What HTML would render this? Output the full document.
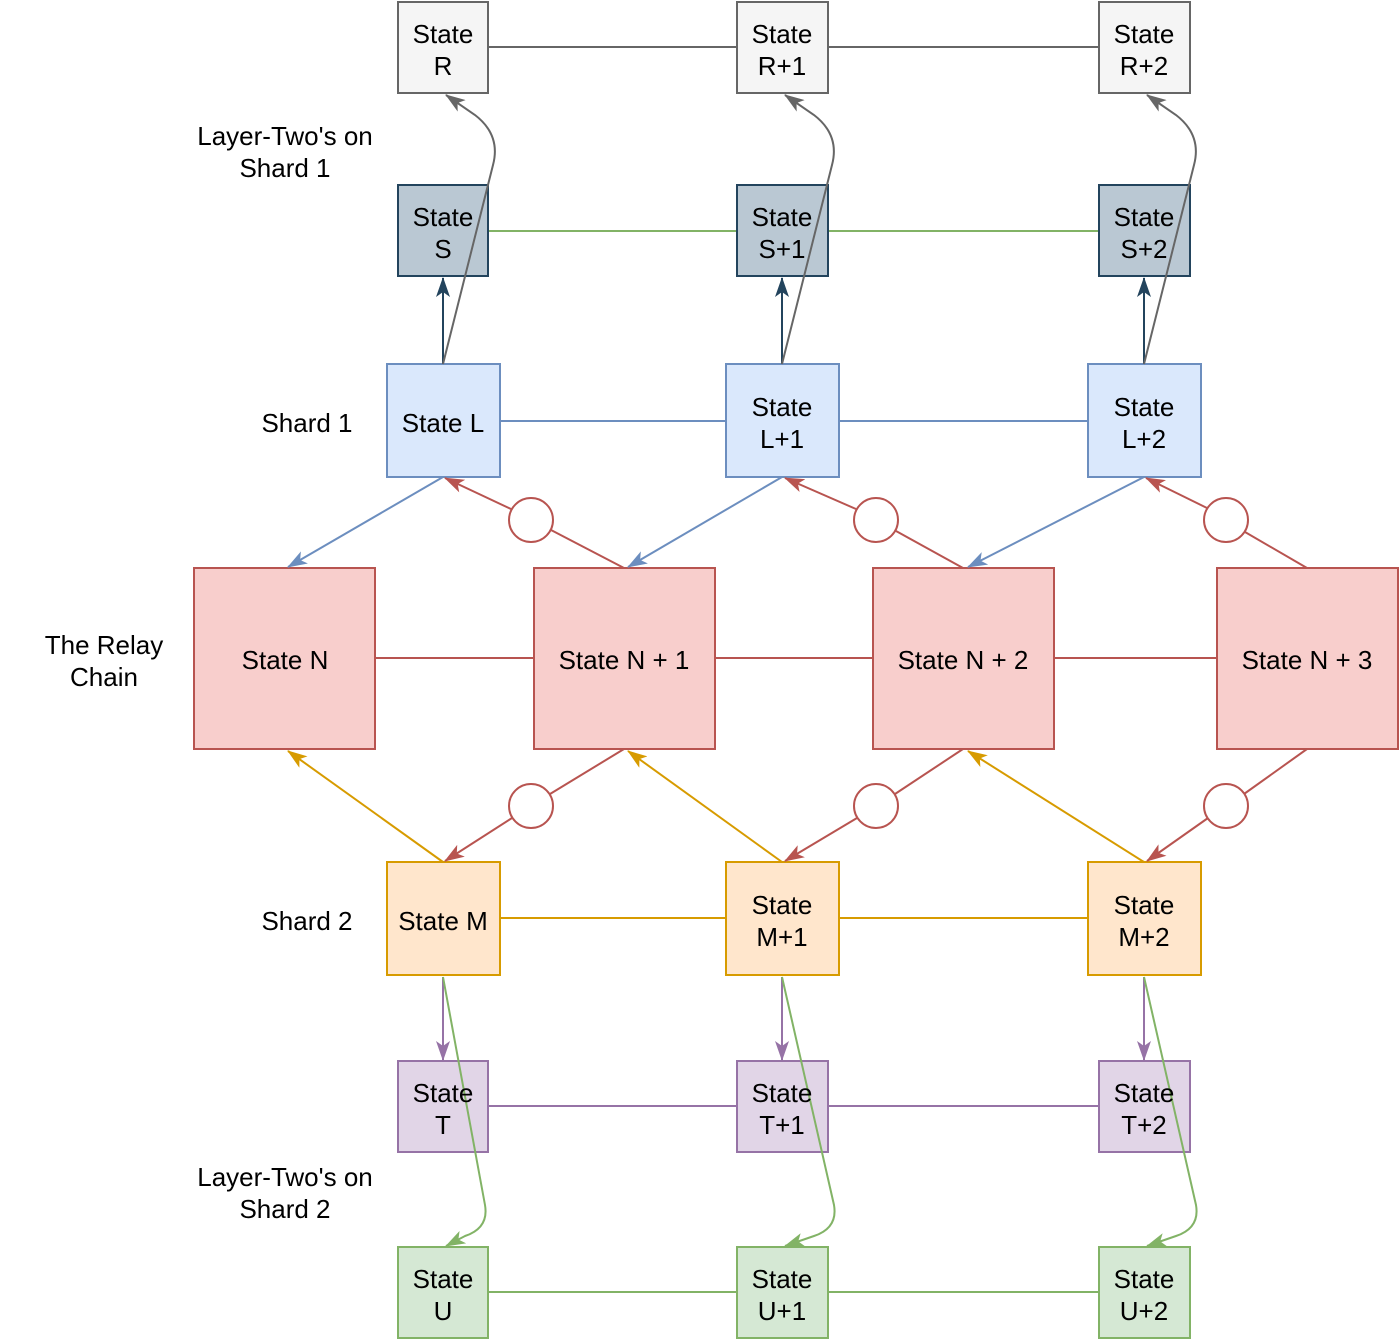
<!DOCTYPE html>
<html><head><meta charset="utf-8"><style>
html,body{margin:0;padding:0;background:#fff}
svg{display:block}
text{font-family:"Liberation Sans",Helvetica,Arial,sans-serif;font-size:26px;fill:#000}
</style></head><body>
<svg width="1400" height="1339" viewBox="0 0 1400 1339" xmlns="http://www.w3.org/2000/svg">
<defs>
<marker id="aG" viewBox="0 0 20 14" refX="19" refY="7" markerWidth="20" markerHeight="14" markerUnits="userSpaceOnUse" orient="auto"><path d="M0,0 L20,7 L0,14 L5,7 z" fill="#666" stroke="none"/></marker>
<marker id="aD" viewBox="0 0 20 14" refX="19" refY="7" markerWidth="20" markerHeight="14" markerUnits="userSpaceOnUse" orient="auto"><path d="M0,0 L20,7 L0,14 L5,7 z" fill="#23445d" stroke="none"/></marker>
<marker id="aB" viewBox="0 0 20 14" refX="19" refY="7" markerWidth="20" markerHeight="14" markerUnits="userSpaceOnUse" orient="auto"><path d="M0,0 L20,7 L0,14 L5,7 z" fill="#6c8ebf" stroke="none"/></marker>
<marker id="aR" viewBox="0 0 20 14" refX="19" refY="7" markerWidth="20" markerHeight="14" markerUnits="userSpaceOnUse" orient="auto"><path d="M0,0 L20,7 L0,14 L5,7 z" fill="#b85450" stroke="none"/></marker>
<marker id="aO" viewBox="0 0 20 14" refX="19" refY="7" markerWidth="20" markerHeight="14" markerUnits="userSpaceOnUse" orient="auto"><path d="M0,0 L20,7 L0,14 L5,7 z" fill="#d79b00" stroke="none"/></marker>
<marker id="aP" viewBox="0 0 20 14" refX="19" refY="7" markerWidth="20" markerHeight="14" markerUnits="userSpaceOnUse" orient="auto"><path d="M0,0 L20,7 L0,14 L5,7 z" fill="#9673a6" stroke="none"/></marker>
<marker id="aV" viewBox="0 0 20 14" refX="19" refY="7" markerWidth="20" markerHeight="14" markerUnits="userSpaceOnUse" orient="auto"><path d="M0,0 L20,7 L0,14 L5,7 z" fill="#82b366" stroke="none"/></marker>
</defs>
<g stroke-width="2" fill="none">
<line x1="488" y1="47" x2="1099" y2="47" stroke="#666"/>
<line x1="488" y1="231" x2="1099" y2="231" stroke="#82b366"/>
<line x1="500" y1="421" x2="1088" y2="421" stroke="#6c8ebf"/>
<line x1="375" y1="658" x2="1217" y2="658" stroke="#b85450"/>
<line x1="500" y1="918" x2="1088" y2="918" stroke="#d79b00"/>
<line x1="488" y1="1106" x2="1099" y2="1106" stroke="#9673a6"/>
<line x1="488" y1="1292" x2="1099" y2="1292" stroke="#82b366"/>
</g>
<g stroke-width="2">
<g fill="#f5f5f5" stroke="#666"><rect x="398" y="2" width="90" height="91"/><rect x="737" y="2" width="91" height="91"/><rect x="1099" y="2" width="91" height="91"/></g>
<g fill="#bac8d3" stroke="#23445d"><rect x="398" y="185" width="90" height="91"/><rect x="737" y="185" width="91" height="91"/><rect x="1099" y="185" width="91" height="91"/></g>
<g fill="#dae8fc" stroke="#6c8ebf"><rect x="387" y="364" width="113" height="113"/><rect x="726" y="364" width="113" height="113"/><rect x="1088" y="364" width="113" height="113"/></g>
<g fill="#f8cecc" stroke="#b85450"><rect x="194" y="568" width="181" height="181"/><rect x="534" y="568" width="181" height="181"/><rect x="873" y="568" width="181" height="181"/><rect x="1217" y="568" width="181" height="181"/></g>
<g fill="#ffe6cc" stroke="#d79b00"><rect x="387" y="862" width="113" height="113"/><rect x="726" y="862" width="113" height="113"/><rect x="1088" y="862" width="113" height="113"/></g>
<g fill="#e1d5e7" stroke="#9673a6"><rect x="398" y="1061" width="90" height="91"/><rect x="737" y="1061" width="91" height="91"/><rect x="1099" y="1061" width="91" height="91"/></g>
<g fill="#d5e8d4" stroke="#82b366"><rect x="398" y="1247" width="90" height="91"/><rect x="737" y="1247" width="91" height="91"/><rect x="1099" y="1247" width="91" height="91"/></g>
</g>
<g stroke-width="2" fill="none">
<g stroke="#23445d"><line x1="443" y1="364" x2="443" y2="278" marker-end="url(#aD)"/><line x1="782" y1="364" x2="782" y2="278" marker-end="url(#aD)"/><line x1="1144" y1="364" x2="1144" y2="278" marker-end="url(#aD)"/></g>
<g stroke="#666">
<path d="M443 364 L493 165 Q501 135 475 115 L446 95" marker-end="url(#aG)"/>
<path d="M782 364 L832 165 Q840 135 814 115 L785 95" marker-end="url(#aG)"/>
<path d="M1144 364 L1194 165 Q1202 135 1176 115 L1147 95" marker-end="url(#aG)"/>
</g>
<g stroke="#6c8ebf"><line x1="443" y1="477" x2="288" y2="567" marker-end="url(#aB)"/><line x1="782" y1="477" x2="628" y2="567" marker-end="url(#aB)"/><line x1="1144" y1="477" x2="968" y2="567" marker-end="url(#aB)"/></g>
<g stroke="#b85450">
<path d="M624 568 L551 530"/><path d="M511 509 L445 478" marker-end="url(#aR)"/>
<path d="M963 568 L896 531"/><path d="M856 509 L785 478" marker-end="url(#aR)"/>
<path d="M1307 568 L1245 532"/><path d="M1207 508 L1146 478" marker-end="url(#aR)"/>
<path d="M624 749 L550 794"/><path d="M512 818 L445 861" marker-end="url(#aR)"/>
<path d="M963 749 L895 794"/><path d="M857 818 L785 861" marker-end="url(#aR)"/>
<path d="M1307 749 L1244 794"/><path d="M1208 818 L1147 861" marker-end="url(#aR)"/>
<circle cx="531" cy="520" r="22" fill="#fff"/><circle cx="876" cy="520" r="22" fill="#fff"/><circle cx="1226" cy="520" r="22" fill="#fff"/>
<circle cx="531" cy="806" r="22" fill="#fff"/><circle cx="876" cy="806" r="22" fill="#fff"/><circle cx="1226" cy="806" r="22" fill="#fff"/>
</g>
<g stroke="#d79b00"><line x1="443" y1="862" x2="288" y2="751" marker-end="url(#aO)"/><line x1="782" y1="862" x2="628" y2="751" marker-end="url(#aO)"/><line x1="1144" y1="862" x2="968" y2="751" marker-end="url(#aO)"/></g>
<g stroke="#9673a6"><line x1="443" y1="977" x2="443" y2="1060" marker-end="url(#aP)"/><line x1="782" y1="977" x2="782" y2="1060" marker-end="url(#aP)"/><line x1="1144" y1="977" x2="1144" y2="1060" marker-end="url(#aP)"/></g>
<g stroke="#82b366">
<path d="M443 977 L485 1205 Q489 1228 465 1236 L446 1246" marker-end="url(#aV)"/>
<path d="M782 977 L834 1205 Q838 1228 814 1236 L785 1246" marker-end="url(#aV)"/>
<path d="M1144 977 L1196 1205 Q1200 1228 1176 1236 L1147 1246" marker-end="url(#aV)"/>
</g>
</g>
<g text-anchor="middle">
<text x="443" y="43">State</text><text x="443" y="75">R</text>
<text x="782" y="43">State</text><text x="782" y="75">R+1</text>
<text x="1144" y="43">State</text><text x="1144" y="75">R+2</text>
<text x="443" y="226">State</text><text x="443" y="258">S</text>
<text x="782" y="226">State</text><text x="782" y="258">S+1</text>
<text x="1144" y="226">State</text><text x="1144" y="258">S+2</text>
<text x="443" y="432">State L</text>
<text x="782" y="416">State</text><text x="782" y="448">L+1</text>
<text x="1144" y="416">State</text><text x="1144" y="448">L+2</text>
<text x="285" y="669">State N</text>
<text x="624" y="669">State N + 1</text>
<text x="963" y="669">State N + 2</text>
<text x="1307" y="669">State N + 3</text>
<text x="443" y="930">State M</text>
<text x="782" y="914">State</text><text x="782" y="946">M+1</text>
<text x="1144" y="914">State</text><text x="1144" y="946">M+2</text>
<text x="443" y="1102">State</text><text x="443" y="1134">T</text>
<text x="782" y="1102">State</text><text x="782" y="1134">T+1</text>
<text x="1144" y="1102">State</text><text x="1144" y="1134">T+2</text>
<text x="443" y="1288">State</text><text x="443" y="1320">U</text>
<text x="782" y="1288">State</text><text x="782" y="1320">U+1</text>
<text x="1144" y="1288">State</text><text x="1144" y="1320">U+2</text>
<text x="285" y="145">Layer-Two's on</text><text x="285" y="177">Shard 1</text>
<text x="307" y="432">Shard 1</text>
<text x="104" y="654">The Relay</text><text x="104" y="686">Chain</text>
<text x="307" y="930">Shard 2</text>
<text x="285" y="1186">Layer-Two's on</text><text x="285" y="1218">Shard 2</text>
</g>
</svg>
</body></html>
